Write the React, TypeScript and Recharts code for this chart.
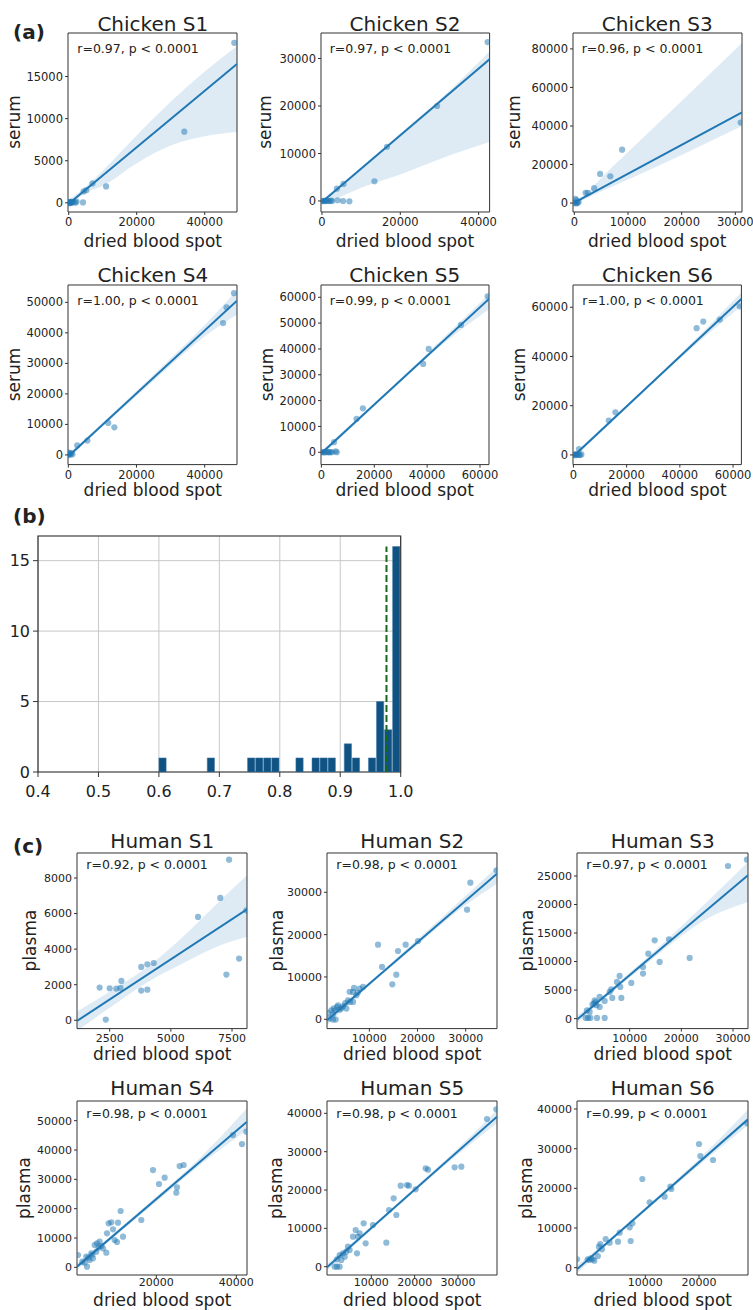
import { Area, Bar, CartesianGrid, ComposedChart, Line, ReferenceArea, ReferenceLine, Scatter, XAxis, YAxis } from 'recharts';

type Pt = [number, number];
type Band = [number, number, number]; // x, lower, upper of the confidence band

const FONT = 'DejaVu Sans';
const BLUE = '#1f77b4';
const INK = '#222';

// ---- (a) chicken: dried blood spot vs serum ----
const chickenS1Points: Pt[] = [[0, 0], [250, 30], [500, 80], [800, 0], [1100, 60], [1500, 120], [2000, 20], [2300, 150], [400, -40], [150, 100], [650, 150], [4200, 50], [4400, 1350], [5200, 1500], [7000, 2300], [11000, 1950], [34000, 8450], [48700, 19000]];
const chickenS1Fit: Pt[] = [[0, -100], [49500, 16500]];
const chickenS1Band: Band[] = [[0, -500, 300], [5000, 1200, 1900], [10000, 2000, 3800], [20000, 4700, 8000], [30000, 6800, 12000], [40000, 7900, 15600], [49500, 8400, 18600]];

const chickenS2Points: Pt[] = [[0, 0], [300, 50], [600, -50], [900, 100], [1200, 0], [1500, 50], [1900, -30], [2300, 80], [2600, 0], [3800, 2600], [5500, 3600], [4000, 150], [5400, 0], [7000, -80], [13400, 4150], [16600, 11400], [29400, 20000], [42300, 33450]];
const chickenS2Fit: Pt[] = [[0, -200], [42800, 29860]];
const chickenS2Band: Band[] = [[0, -800, 300], [5000, 1000, 3600], [10000, 2800, 7100], [20000, 5600, 14200], [30000, 8800, 21300], [42800, 12400, 31500]];

const chickenS3Points: Pt[] = [[0, 0], [200, 300], [400, -200], [600, 100], [800, 500], [200, 2200], [400, 1400], [2100, 5300], [2500, 5300], [3700, 7700], [4800, 15100], [6700, 13900], [8900, 27700], [31000, 41800]];
const chickenS3Fit: Pt[] = [[0, 170], [31240, 47000]];
const chickenS3Band: Band[] = [[0, -600, 1200], [2500, 2800, 5800], [5000, 6000, 13000], [10000, 12200, 26500], [20000, 25000, 53000], [31240, 40000, 83000]];

const chickenS4Points: Pt[] = [[0, 0], [300, 400], [600, 100], [900, 600], [1200, 200], [200, 800], [2600, 3100], [5600, 4700], [11700, 10500], [13500, 9050], [45400, 43200], [46400, 48400], [48600, 53000]];
const chickenS4Fit: Pt[] = [[0, -440], [49480, 50560]];
const chickenS4Band: Band[] = [[0, -1100, 300], [10000, 9200, 10500], [25000, 24300, 26300], [40000, 38800, 42600], [49480, 46000, 54000]];

const chickenS5Points: Pt[] = [[0, 0], [500, 100], [1000, -100], [1500, 200], [2000, 0], [2500, 150], [3000, -50], [3500, 100], [4000, 0], [4800, 3900], [5400, 400], [5800, 0], [13300, 12900], [15700, 17000], [38500, 34200], [40600, 40000], [52800, 49300], [62900, 60400]];
const chickenS5Fit: Pt[] = [[0, -390], [63400, 59340]];
const chickenS5Band: Band[] = [[0, -1500, 500], [15000, 13100, 14400], [30000, 27200, 28600], [45000, 41000, 43200], [63400, 55500, 61300]];

const chickenS6Points: Pt[] = [[0, 0], [400, 200], [800, -100], [1200, 300], [1600, 0], [2000, 100], [2500, -50], [3000, 200], [2100, 2400], [13300, 13950], [15800, 17300], [46300, 51500], [48800, 54200], [55000, 55000], [62500, 60400]];
const chickenS6Fit: Pt[] = [[0, -540], [63120, 63370]];
const chickenS6Band: Band[] = [[0, -1500, 300], [20000, 19100, 20300], [40000, 39200, 40800], [63120, 60500, 66000]];

// ---- (b) histogram of r values ----
const histBinStart = [0.6, 0.68, 0.74667, 0.76, 0.77333, 0.78667, 0.82667, 0.85333, 0.86667, 0.88, 0.90667, 0.92, 0.94667, 0.96, 0.97333, 0.98667];
const histCounts = [1, 1, 1, 1, 1, 1, 1, 1, 1, 1, 2, 1, 1, 5, 3, 16];
const HIST_BIN = 0.4 / 30;
const histMedian = 0.9765;
const histXTicks = [0.4, 0.5, 0.6, 0.7, 0.8, 0.9, 1.0];
const histYTicks = [0, 5, 10, 15];

// ---- (c) human: dried blood spot vs plasma ----
const humanS1Points: Pt[] = [[2340, 40], [2090, 1840], [2500, 1800], [2770, 1780], [2940, 1820], [2980, 2210], [3790, 1670], [4040, 1720], [3790, 3000], [4040, 3150], [4300, 3220], [6110, 5810], [7020, 6880], [7380, 9030], [7270, 2570], [7790, 3470], [8090, 6180]];
const humanS1Fit: Pt[] = [[1165, -37], [8112, 6240]];
const humanS1Band: Band[] = [[1165, -600, 500], [2500, 700, 1600], [4000, 2100, 2950], [5500, 3200, 4700], [7000, 4200, 6700], [8112, 4700, 8150]];

const humanS2Points: Pt[] = [[1490, 1500], [1760, 160], [2110, 2130], [2460, 1180], [2460, -80], [3010, -80], [2800, 2130], [2600, 2600], [3290, 2910], [3500, 3300], [3840, 2280], [4200, 2600], [4530, 3070], [5000, 3800], [5230, 2520], [5570, 4490], [6000, 4100], [6610, 4090], [5900, 6500], [7300, 5670], [6610, 6460], [6820, 7400], [7600, 6300], [8000, 7240], [8690, 7640], [11800, 17640], [12630, 12360], [14770, 8270], [15600, 10550], [15950, 16140], [17540, 17640], [20100, 18500], [30280, 25900], [30970, 32280], [36400, 35200]];
const humanS2Fit: Pt[] = [[1210, -240], [36500, 34410]];
const humanS2Band: Band[] = [[1210, -1400, 900], [10000, 8000, 8800], [20000, 17600, 18900], [30000, 27000, 29200], [36500, 32050, 35990]];

const humanS3Points: Pt[] = [[1490, 120], [1940, 120], [2390, 120], [3680, 120], [5160, 120], [1740, 1460], [2260, 1170], [4190, 2040], [3550, 2340], [3100, 2630], [2800, 2500], [3400, 2900], [3230, 3210], [5160, 3100], [4190, 3800], [6640, 3620], [6130, 4670], [6450, 5140], [8390, 3620], [8190, 5550], [7550, 6430], [8060, 7480], [10320, 6250], [12580, 7890], [12580, 9050], [13610, 11390], [15800, 9930], [14840, 13730], [17610, 13900], [21610, 10630], [29030, 26750], [32700, 27860]];
const humanS3Fit: Pt[] = [[-190, -175], [32900, 25120]];
const humanS3Band: Band[] = [[-190, -800, 500], [5000, 3400, 4200], [10000, 7200, 8100], [15000, 10900, 12000], [20000, 14500, 16200], [25000, 17500, 20500], [32900, 20440, 27450]];

const humanS4Points: Pt[] = [[420, 4200], [1500, 1930], [2080, 1590], [2670, 230], [2500, 3640], [3000, 3300], [3330, 2500], [3750, 4770], [4000, 4300], [4170, 3070], [4580, 7610], [5000, 5340], [5170, 8180], [5600, 6800], [5830, 8750], [6250, 7270], [6670, 6480], [7500, 5000], [7670, 11590], [8080, 15000], [8750, 15340], [9170, 12950], [9580, 9320], [10170, 8630], [10420, 15220], [11080, 19200], [11670, 10450], [16250, 16130], [19170, 33170], [20670, 28400], [22080, 30560], [25000, 25450], [25170, 27260], [25830, 34530], [26830, 34880], [39170, 45100], [41420, 42030], [42500, 46240]];
const humanS4Fit: Pt[] = [[170, 230], [42670, 49640]];
const humanS4Band: Band[] = [[170, -800, 1200], [10000, 11000, 12300], [20000, 22400, 24100], [30000, 33900, 36100], [42670, 46800, 54200]];

const humanS5Points: Pt[] = [[1540, 0], [2080, 0], [2690, 0], [2080, 1910], [3080, 1740], [3850, 2610], [2690, 3040], [3460, 3480], [4230, 3910], [5000, 4350], [4610, 5220], [6690, 3480], [5770, 7830], [6920, 7830], [7310, 8700], [6380, 9570], [8230, 11300], [8690, 6090], [10380, 10870], [13460, 6260], [14080, 14780], [15770, 13480], [15150, 17830], [16770, 21130], [18230, 21300], [18690, 21130], [20230, 20170], [22540, 25650], [23080, 25300], [29230, 25910], [30770, 26090], [36690, 38520], [38850, 41040]];
const humanS5Fit: Pt[] = [[-230, -170], [39000, 39130]];
const humanS5Band: Band[] = [[-230, -1000, 700], [10000, 9600, 10550], [20000, 19600, 20600], [30000, 29300, 30900], [39000, 37400, 40900]];

const humanS6Points: Pt[] = [[-2730, 2100], [-740, 2100], [-430, 1930], [-120, 2350], [190, 2100], [500, 1760], [1160, 2940], [1920, 4620], [1360, 5290], [1610, 5970], [3350, 6300], [2610, 7230], [4910, 6550], [7270, 6720], [5220, 8820], [7080, 10170], [7580, 11180], [9440, 22350], [10810, 16470], [13600, 17900], [14840, 19830], [14660, 20420], [20000, 31180], [20250, 28150], [22610, 27140], [29000, 36380]];
const humanS6Fit: Pt[] = [[-2730, -420], [29130, 37390]];
const humanS6Band: Band[] = [[-2730, -1500, 600], [5000, 8300, 9200], [10000, 14200, 15200], [20000, 25800, 27400], [29130, 35900, 39800]];

interface PanelSpec {
  title: string;
  stat: string;
  yLabel: string;
  points: Pt[];
  fit: Pt[];
  band: Band[];
  xDomain: [number, number];
  yDomain: [number, number];
  xTicks: number[];
  yTicks: number[];
  box: [number, number, number, number];
  yLabelX: number;
  titleY: number;
  xLabelY: number;
  statDy: number;
  tickFont: number;
  tickGap: number;
}

const chickenRow1 = { titleY: 30.5, xLabelY: 246.5, statDy: 20.5, tickFont: 11.5, tickGap: 3 };
const chickenRow2 = { titleY: 281.5, xLabelY: 495.5, statDy: 20.5, tickFont: 11.5, tickGap: 3 };
const humanRow1 = { titleY: 848, xLabelY: 1059.5, statDy: 16.5, tickFont: 11, tickGap: 2.5 };
const humanRow2 = { titleY: 1095, xLabelY: 1305.5, statDy: 16.5, tickFont: 11, tickGap: 0.5 };

const panels: PanelSpec[] = [
  { title: 'Chicken S1', stat: 'r=0.97, p < 0.0001', yLabel: 'serum', points: chickenS1Points, fit: chickenS1Fit, band: chickenS1Band, xDomain: [-200, 49500], yDomain: [-1090, 20170], xTicks: [0, 20000, 40000], yTicks: [0, 5000, 10000, 15000], box: [68.3, 32.5, 169, 179], yLabelX: 15, ...chickenRow1 },
  { title: 'Chicken S2', stat: 'r=0.97, p < 0.0001', yLabel: 'serum', points: chickenS2Points, fit: chickenS2Fit, band: chickenS2Band, xDomain: [-250, 42800], yDomain: [-2320, 35370], xTicks: [0, 20000, 40000], yTicks: [0, 10000, 20000, 30000], box: [320.7, 32.5, 168.6, 179], yLabelX: 266.7, ...chickenRow1 },
  { title: 'Chicken S3', stat: 'r=0.96, p < 0.0001', yLabel: 'serum', points: chickenS3Points, fit: chickenS3Fit, band: chickenS3Band, xDomain: [-250, 31240], yDomain: [-4640, 88240], xTicks: [0, 10000, 20000, 30000], yTicks: [0, 20000, 40000, 60000, 80000], box: [572.7, 32.5, 169, 179], yLabelX: 515, ...chickenRow1 },
  { title: 'Chicken S4', stat: 'r=1.00, p < 0.0001', yLabel: 'serum', points: chickenS4Points, fit: chickenS4Fit, band: chickenS4Band, xDomain: [-100, 49480], yDomain: [-3170, 55690], xTicks: [0, 20000, 40000], yTicks: [0, 10000, 20000, 30000, 40000, 50000], box: [68.3, 284.7, 169, 179.6], yLabelX: 15, ...chickenRow2 },
  { title: 'Chicken S5', stat: 'r=0.99, p < 0.0001', yLabel: 'serum', points: chickenS5Points, fit: chickenS5Fit, band: chickenS5Band, xDomain: [-150, 63400], yDomain: [-4770, 64760], xTicks: [0, 20000, 40000, 60000], yTicks: [0, 10000, 20000, 30000, 40000, 50000, 60000], box: [320.7, 284.7, 168, 179.6], yLabelX: 268, ...chickenRow2 },
  { title: 'Chicken S6', stat: 'r=1.00, p < 0.0001', yLabel: 'serum', points: chickenS6Points, fit: chickenS6Fit, band: chickenS6Band, xDomain: [-150, 63120], yDomain: [-3930, 69050], xTicks: [0, 20000, 40000, 60000], yTicks: [0, 20000, 40000, 60000], box: [573.3, 284.7, 168.4, 179.6], yLabelX: 520.7, ...chickenRow2 },
  { title: 'Human S1', stat: 'r=0.92, p < 0.0001', yLabel: 'plasma', points: humanS1Points, fit: humanS1Fit, band: humanS1Band, xDomain: [1165, 8112], yDomain: [-468, 9405], xTicks: [2500, 5000, 7500], yTicks: [0, 2000, 4000, 6000, 8000], box: [77.3, 852.7, 170, 175.6], yLabelX: 31.7, ...humanRow1 },
  { title: 'Human S2', stat: 'r=0.98, p < 0.0001', yLabel: 'plasma', points: humanS2Points, fit: humanS2Fit, band: humanS2Band, xDomain: [1210, 36500], yDomain: [-2200, 39290], xTicks: [10000, 20000, 30000], yTicks: [0, 10000, 20000, 30000], box: [327.3, 852.7, 170, 175.6], yLabelX: 278, ...humanRow1 },
  { title: 'Human S3', stat: 'r=0.97, p < 0.0001', yLabel: 'plasma', points: humanS3Points, fit: humanS3Fit, band: humanS3Band, xDomain: [-190, 32900], yDomain: [-1750, 29030], xTicks: [10000, 20000, 30000], yTicks: [0, 5000, 10000, 15000, 20000, 25000], box: [577.3, 852.7, 171, 175.6], yLabelX: 528, ...humanRow1 },
  { title: 'Human S4', stat: 'r=0.98, p < 0.0001', yLabel: 'plasma', points: humanS4Points, fit: humanS4Fit, band: humanS4Band, xDomain: [170, 42670], yDomain: [-2610, 56700], xTicks: [20000, 40000], yTicks: [0, 10000, 20000, 30000, 40000, 50000], box: [77.3, 1101, 170, 174], yLabelX: 25, ...humanRow2 },
  { title: 'Human S5', stat: 'r=0.98, p < 0.0001', yLabel: 'plasma', points: humanS5Points, fit: humanS5Fit, band: humanS5Band, xDomain: [-230, 39000], yDomain: [-2170, 43220], xTicks: [10000, 20000, 30000], yTicks: [0, 10000, 20000, 30000, 40000], box: [327.3, 1101, 170, 174], yLabelX: 277, ...humanRow2 },
  { title: 'Human S6', stat: 'r=0.99, p < 0.0001', yLabel: 'plasma', points: humanS6Points, fit: humanS6Fit, band: humanS6Band, xDomain: [-2730, 29130], yDomain: [-1850, 42020], xTicks: [10000, 20000], yTicks: [0, 10000, 20000, 30000, 40000], box: [577.3, 1101, 171, 174], yLabelX: 527, ...humanRow2 },
];

const YW = 60;
const MT = 6;
const MR = 24;
const XH = 22;

function buildRows(band: Band[], fit: Pt[]) {
  const rows: { x: number; band: [number, number] | null; fit: number | null }[] = band.map(([x, lo, hi]) => ({ x, band: [lo, hi], fit: null }));
  fit.forEach(([x, y]) => {
    const r = rows.find((row) => row.x === x);
    if (r) r.fit = y;
    else rows.push({ x, band: null, fit: y });
  });
  rows.sort((a, b) => a.x - b.x);
  return rows;
}

const dot = (props: any) => <circle cx={props.cx} cy={props.cy} r={3.1} fill={BLUE} fillOpacity={0.5} />;

function ScatterPanel({ p }: { p: PanelSpec }) {
  const [bx, by, bw, bh] = p.box;
  const rows = buildRows(p.band, p.fit);
  const pts = p.points.map(([x, y]) => ({ x, y }));
  const tick = { fontSize: p.tickFont, fill: INK, fontFamily: FONT };
  return (
    <div style={{ position: 'absolute', left: bx - YW, top: by - MT }}>
      <ComposedChart width={YW + bw + MR} height={MT + bh + XH} data={rows} margin={{ top: MT, right: MR, bottom: 0, left: 0 }}>
        <XAxis type="number" dataKey="x" domain={p.xDomain} ticks={p.xTicks} interval={0} allowDataOverflow height={XH}
          axisLine={false} tickLine={{ stroke: '#333' }} tickSize={3} tickMargin={p.tickGap} tick={tick} />
        <YAxis type="number" domain={p.yDomain} ticks={p.yTicks} interval={0} allowDataOverflow width={YW}
          axisLine={false} tickLine={{ stroke: '#333' }} tickSize={3} tickMargin={2} tick={tick} />
        <Scatter data={pts} dataKey="y" shape={dot} isAnimationActive={false} />
        <Area dataKey="band" type="monotone" stroke="none" fill={BLUE} fillOpacity={0.15} connectNulls isAnimationActive={false} />
        <Line dataKey="fit" type="linear" stroke={BLUE} strokeWidth={2} dot={false} connectNulls isAnimationActive={false} />
        <ReferenceArea x1={p.xDomain[0]} x2={p.xDomain[1]} y1={p.yDomain[0]} y2={p.yDomain[1]} fill="none" stroke="#333" strokeWidth={1} />
      </ComposedChart>
    </div>
  );
}

const histBox: [number, number, number, number] = [38.3, 536, 362.7, 236];

function Histogram() {
  const [bx, by, bw, bh] = histBox;
  const hyw = 38;
  const mr = 16;
  const xh = 36;
  const rows = histBinStart.map((s, i) => ({ mid: s + HIST_BIN / 2, count: histCounts[i] }));
  const barPx = (bw * HIST_BIN) / 0.6;
  const tick = { fontSize: 16, fill: INK, fontFamily: FONT };
  return (
    <div style={{ position: 'absolute', left: bx - hyw, top: by - MT }}>
      <ComposedChart width={hyw + bw + mr} height={MT + bh + xh} data={rows} margin={{ top: MT, right: mr, bottom: 0, left: 0 }}>
        <CartesianGrid stroke="#c8c8c8" strokeWidth={1} />
        <XAxis type="number" dataKey="mid" domain={[0.4, 1.0]} ticks={histXTicks} interval={0} allowDataOverflow height={xh}
          axisLine={false} tickLine={{ stroke: '#333' }} tickSize={5} tickMargin={8.5} tick={tick} tickFormatter={(v: number) => v.toFixed(1)} />
        <YAxis type="number" domain={[0, 16.75]} ticks={histYTicks} interval={0} allowDataOverflow width={hyw}
          axisLine={false} tickLine={{ stroke: '#333' }} tickSize={5} tickMargin={3} tick={tick} />
        <Bar dataKey="count" barSize={barPx} fill="#105282" stroke="#3a77a3" strokeWidth={0.5} isAnimationActive={false} />
        <ReferenceLine segment={[{ x: histMedian, y: 0 }, { x: histMedian, y: 16 }]} stroke="#17691a" strokeWidth={2} strokeDasharray="7 3" />
        <ReferenceArea x1={0.4} x2={1.0} y1={0} y2={16.75} fill="none" stroke="#333" strokeWidth={1.2} />
      </ComposedChart>
    </div>
  );
}

export default function App() {
  return (
    <div style={{ position: 'absolute', left: 0, top: 0, width: 753, height: 1310, background: '#fff', overflow: 'hidden' }}>
      {panels.map((p) => <ScatterPanel key={p.title} p={p} />)}
      <Histogram />
      <svg width={753} height={1310} style={{ position: 'absolute', left: 0, top: 0, pointerEvents: 'none' }} fontFamily={FONT} fill={INK}>
        <text x={13} y={39} fontSize={20} fontWeight="bold">(a)</text>
        <text x={13} y={523} fontSize={20} fontWeight="bold">(b)</text>
        <text x={13} y={853} fontSize={20} fontWeight="bold">(c)</text>
        {panels.map((p) => {
          const [bx, by, bw, bh] = p.box;
          const cx = bx + bw / 2;
          const cy = by + bh / 2;
          return (
            <g key={p.title}>
              <text x={cx} y={p.titleY} fontSize={20} textAnchor="middle">{p.title}</text>
              <text x={bx + 9} y={by + p.statDy} fontSize={12.5}>{p.stat}</text>
              <text x={cx} y={p.xLabelY} fontSize={17} textAnchor="middle">dried blood spot</text>
              <text transform={`translate(${p.yLabelX - 1.3},${cy}) rotate(-90)`} fontSize={17} textAnchor="middle" dominantBaseline="central">{p.yLabel}</text>
            </g>
          );
        })}
      </svg>
    </div>
  );
}
